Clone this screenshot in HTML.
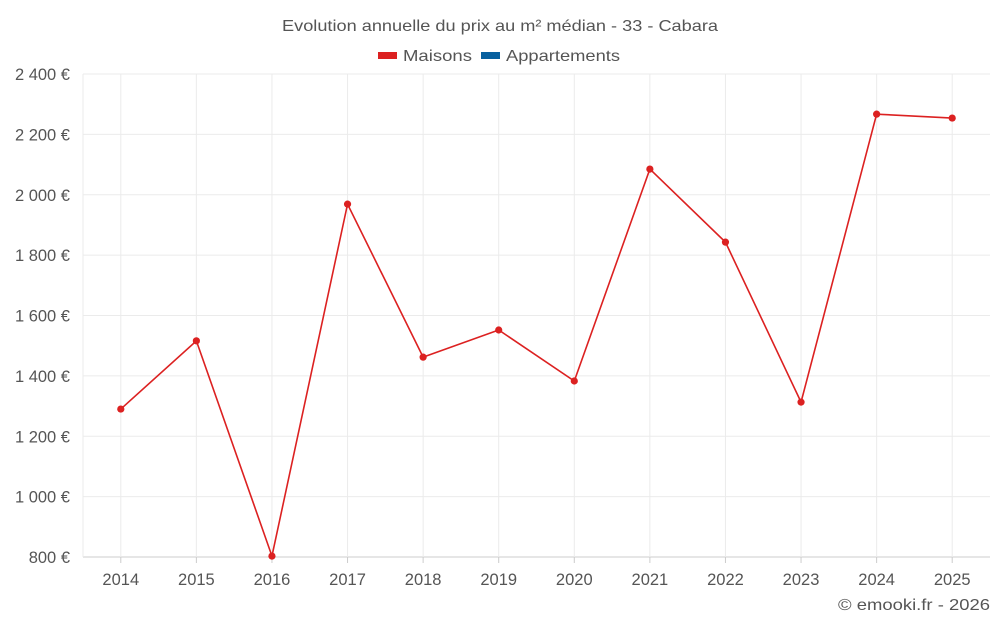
<!DOCTYPE html>
<html><head><meta charset="utf-8"><style>
body{margin:0;background:#fff;font-family:"Liberation Sans",sans-serif;}
svg text{font-family:"Liberation Sans",sans-serif;fill:#555;}
</style></head><body>
<svg width="1000" height="625">
<text x="282" y="31" font-size="16" textLength="436" lengthAdjust="spacingAndGlyphs">Evolution annuelle du prix au m² médian - 33 - Cabara</text>
<g>
<g><rect x="378" y="52" width="19" height="7" fill="#dc2121"/><text x="403" y="61" font-size="16" textLength="69" lengthAdjust="spacingAndGlyphs">Maisons</text></g>
<g><rect x="481" y="52" width="19" height="7" fill="#07609f"/><text x="506" y="61" font-size="16" textLength="114" lengthAdjust="spacingAndGlyphs">Appartements</text></g>
</g>
<g id="grid"></g><g id="axes"></g><g id="series"></g>
<text x="838" y="610" font-size="16" textLength="152" lengthAdjust="spacingAndGlyphs">© emooki.fr - 2026</text>
</svg>
<script>
const categories=[2014,2015,2016,2017,2018,2019,2020,2021,2022,2023,2024,2025];
const maisons=[1290,1516,803,1969,1462,1552,1383,2085,1843,1313,2267,2254];
const yTicks=[800,1000,1200,1400,1600,1800,2000,2200,2400];
const yTickLabels=["800 €","1 000 €","1 200 €","1 400 €","1 600 €","1 800 €","2 000 €","2 200 €","2 400 €"];
const L=83,R=990,T=74,B=557,yMin=800,yMax=2400;
const bw=(R-L)/categories.length;
const x=i=>L+bw*(i+0.5);
const y=v=>B-(v-yMin)/(yMax-yMin)*(B-T);
const NS="http://www.w3.org/2000/svg";
function mk(tag,at,parent){const e=document.createElementNS(NS,tag);for(const k in at)e.setAttribute(k,at[k]);document.getElementById(parent).appendChild(e);return e;}
yTicks.forEach((v,i)=>{
 const g=mk('line',{x1:L,x2:R,y1:y(v),y2:y(v),stroke:i==0?'#ccc':'#ebebeb'},'grid');
 
 
 const t=mk('text',{x:70,y:y(v)+6,'text-anchor':'end','font-size':16.5},'axes');t.textContent=yTickLabels[i];
 
 
});
mk('line',{x1:L,x2:L,y1:T,y2:B,stroke:'#ebebeb'},'grid');
categories.forEach((c,i)=>{
 const g=mk('line',{x1:x(i),x2:x(i),y1:T,y2:B,stroke:'#ebebeb'},'grid');
 
 
 const tk=mk('line',{x1:x(i),x2:x(i),y1:B,y2:B+6,stroke:'#ccc'},'axes');
 
 
 const t=mk('text',{x:x(i),y:585,'text-anchor':'middle','font-size':16.5},'axes');t.textContent=c;
 
 
});
const p=mk('polyline',{points:maisons.map((v,i)=>x(i)+','+y(v)).join(' '),fill:'none',stroke:'#dc2121','stroke-width':1.6},'series');


maisons.forEach((v,i)=>{
 const c=mk('circle',{cx:x(i),cy:y(v),r:3.6,fill:'#dc2121'},'series');
 
 
});
</script>
</body></html>
